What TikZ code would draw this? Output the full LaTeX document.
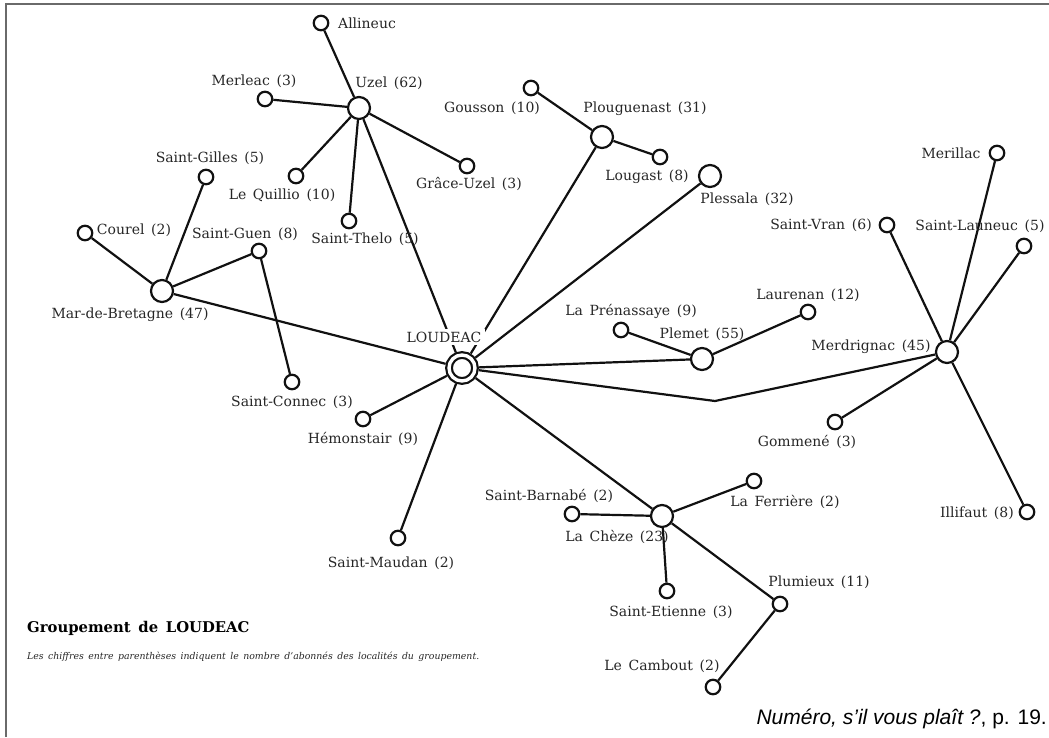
\documentclass[tikz,border=0pt]{standalone}
\usepackage{fontspec}
\setmainfont{DejaVu Serif}[WordSpace=1.5]
\newfontfamily\citefont{Liberation Sans}
\usetikzlibrary{backgrounds}
\definecolor{ink}{HTML}{111111}
\definecolor{txt}{HTML}{262626}
\definecolor{framecol}{HTML}{6A6A6A}
\tikzset{
  town/.style={circle,draw=ink,line width=2.2pt,fill=white,minimum size=14.5pt,inner sep=0pt},
  hub/.style={town,minimum size=22pt},
  capital/.style={circle,draw=ink,line width=2.2pt,double=white,double distance=3.4pt,fill=white,minimum size=26pt,inner sep=0pt,outer sep=3.9pt},
  lab/.style={font=\fontsize{14}{16}\selectfont,text=txt,inner sep=0pt},
  caplab/.style={lab,fill=white,inner xsep=4pt,inner ysep=3pt},
  link/.style={draw=ink,line width=2.2pt},
  framed/.style={draw=framecol,line width=2pt}
}
\begin{document}
\begin{tikzpicture}[x=1pt,y=-1pt]
\useasboundingbox (0,0) rectangle (1049,737);
\draw[framed] (6,737) -- (6,4) -- (1049,4);

% towns
\node[town] (allineuc) at (321,23) {};
\node[hub] (uzel) at (359,108) {};
\node[town] (merleac) at (265,99) {};
\node[town] (quillio) at (296,176) {};
\node[town] (thelo) at (349,221) {};
\node[town] (grace) at (467,166) {};
\node[town] (gousson) at (531,88) {};
\node[hub] (plouguenast) at (602,137) {};
\node[town] (lougast) at (660,157) {};
\node[hub] (plessala) at (710,176) {};
\node[town] (gilles) at (206,177) {};
\node[town] (courel) at (85,233) {};
\node[town] (guen) at (259,251) {};
\node[hub] (mar) at (162,291) {};
\node[town] (connec) at (292,382) {};
\node[town] (hemon) at (363,419) {};
\node[capital] (loudeac) at (462,368) {};
\node[town] (maudan) at (398,538) {};
\node[town] (prenas) at (621,330) {};
\node[hub] (plemet) at (702,359) {};
\node[town] (laurenan) at (808,312) {};
\node[hub] (merd) at (947,352) {};
\node[town] (merillac) at (997,153) {};
\node[town] (vran) at (887,225) {};
\node[town] (launeuc) at (1024,246) {};
\node[town] (gommene) at (835,422) {};
\node[town] (illifaut) at (1027,512) {};
\node[hub] (cheze) at (662,516) {};
\node[town] (barnabe) at (572,514) {};
\node[town] (ferriere) at (754,481) {};
\node[town] (etienne) at (667,591) {};
\node[town] (plumieux) at (780,604) {};
\node[town] (cambout) at (713,687) {};
\coordinate (bend) at (715,401);

% labels
\node[lab] (tallineuc) at (367,23) {Allineuc};
\node[lab] (tuzel) at (389,83) {Uzel (62)};
\node[lab] (tmerleac) at (254,81) {Merleac (3)};
\node[lab] (tquillio) at (282,195) {Le Quillio (10)};
\node[lab] (tthelo) at (365,239) {Saint-Thelo (5)};
\node[lab] (tgrace) at (469,184) {Grâce-Uzel (3)};
\node[lab] (tgousson) at (492,108) {Gousson (10)};
\node[lab] (tplouguenast) at (645,109) {Plouguenast (31)};
\node[lab] (tlougast) at (647,177) {Lougast (8)};
\node[lab] (tplessala) at (747,199) {Plessala (32)};
\node[lab] (tgilles) at (210,158) {Saint-Gilles (5)};
\node[lab] (tcourel) at (134,230) {Courel (2)};
\node[lab] (tguen) at (245,234) {Saint-Guen (8)};
\node[lab] (tmar) at (130,315) {Mar-de-Bretagne (47)};
\node[lab] (tconnec) at (292,402) {Saint-Connec (3)};
\node[lab] (themon) at (363,439) {Hémonstair (9)};
\node[caplab] (tloudeac) at (444,337) {LOUDEAC};
\node[lab] (tmaudan) at (391,563) {Saint-Maudan (2)};
\node[lab] (tprenas) at (631,311) {La Prénassaye (9)};
\node[lab] (tplemet) at (702,334) {Plemet (55)};
\node[lab] (tlaurenan) at (808,295) {Laurenan (12)};
\node[lab] (tmerd) at (871,347) {Merdrignac (45)};
\node[lab] (tmerillac) at (951,153) {Merillac};
\node[lab] (tvran) at (821,225) {Saint-Vran (6)};
\node[lab] (tlauneuc) at (980,226) {Saint-Launeuc (5)};
\node[lab] (tgommene) at (807,442) {Gommené (3)};
\node[lab] (tillifaut) at (977,513) {Illifaut (8)};
\node[lab] (tcheze) at (617,537) {La Chèze (23)};
\node[lab] (tbarnabe) at (549,496) {Saint-Barnabé (2)};
\node[lab] (tferriere) at (785,502) {La Ferrière (2)};
\node[lab] (tetienne) at (671,612) {Saint-Etienne (3)};
\node[lab] (tplumieux) at (819,582) {Plumieux (11)};
\node[lab] (tcambout) at (662,666) {Le Cambout (2)};

\node[anchor=west,inner sep=0pt,font=\fontsize{14.8}{18}\selectfont\bfseries,text=black] (title) at (27,628) {Groupement de LOUDEAC};
\node[anchor=west,inner sep=0pt,font=\fontsize{9.35}{11}\selectfont\itshape,text=txt] (subtitle) at (27,657) {Les chiffres entre parenthèses indiquent le nombre d'abonnés des localités du groupement.};
\node[anchor=east,inner sep=0pt,font=\fontsize{21}{24}\selectfont\citefont,text=black] (cite) at (1047,719) {\textit{Numéro, s’il vous plaît ?}, p. 19.};

% connectors
\begin{scope}[on background layer]
\draw[link] (uzel) -- (allineuc);
\draw[link] (uzel) -- (merleac);
\draw[link] (uzel) -- (quillio);
\draw[link] (uzel) -- (thelo);
\draw[link] (uzel) -- (grace);
\draw[link] (uzel) -- (loudeac);
\draw[link] (plouguenast) -- (gousson);
\draw[link] (plouguenast) -- (lougast);
\draw[link] (plouguenast) -- (loudeac);
\draw[link] (plessala) -- (loudeac);
\draw[link] (mar) -- (courel);
\draw[link] (mar) -- (gilles);
\draw[link] (mar) -- (guen);
\draw[link] (guen) -- (connec);
\draw[link] (mar) -- (loudeac);
\draw[link] (loudeac) -- (hemon);
\draw[link] (loudeac) -- (maudan);
\draw[link] (loudeac) -- (plemet);
\draw[link] (plemet) -- (prenas);
\draw[link] (plemet) -- (laurenan);
\draw[link] (loudeac) -- (bend) -- (merd);
\draw[link] (merd) -- (vran);
\draw[link] (merd) -- (merillac);
\draw[link] (merd) -- (launeuc);
\draw[link] (merd) -- (gommene);
\draw[link] (merd) -- (illifaut);
\draw[link] (loudeac) -- (cheze);
\draw[link] (cheze) -- (barnabe);
\draw[link] (cheze) -- (ferriere);
\draw[link] (cheze) -- (etienne);
\draw[link] (cheze) -- (plumieux);
\draw[link] (plumieux) -- (cambout);
\end{scope}
\end{tikzpicture}
\end{document}
